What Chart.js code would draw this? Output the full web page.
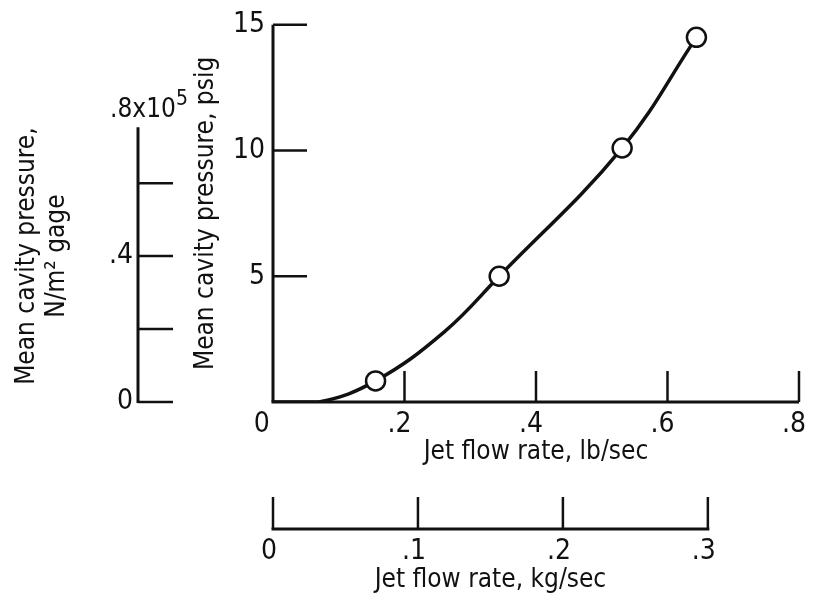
<!DOCTYPE html>
<html>
<head>
<meta charset="utf-8">
<title>Mean cavity pressure vs jet flow rate</title>
<script src="https://cdn.jsdelivr.net/npm/chart.js@4.4.0/dist/chart.umd.min.js"></script>
<style>
  html, body { margin: 0; padding: 0; background: #fff; }
  #wrap { width: 817px; height: 602px; }
</style>
</head>
<body>
<div id="wrap"><canvas id="cavityChart" width="817" height="602"></canvas></div>
<script>
// measured points: jet flow (lb/sec) and mean cavity pressure (psig)
const flowLb = [0.156, 0.344, 0.531, 0.644];
const pressurePsig = [0.84, 5.0, 10.1, 14.5];

// faired curve through the measurements
const curveFlowLb = [0, 0.07, 0.156, 0.261, 0.344, 0.531, 0.644];
const curvePsig = [0, 0, 0.84, 2.8, 5.0, 10.1, 14.5];

const lbTicks = [0, 0.2, 0.4, 0.6, 0.8];
const lbTickLabels = ['0\u2002', '.2', '.4', '.6', '.8'];
const psigTicks = [0, 5, 10, 15];
const psigTickLabels = ['', '5', '10', '15'];
const kgTicks = [0, 0.1, 0.2, 0.3];
const kgTickLabels = ['0', '.1', '.2', '.3'];
const paTicks = [0, 0.2e5, 0.4e5, 0.6e5, 0.8e5];
const paTickLabels = ['0', '', '.4', '', ''];

const PSI_TO_PA = 6894.76;
const LB_TO_KG = 0.45359237;
const LB_MAX = 0.8;
const PSIG_MAX = 15;

const INK = '#111';
const FAMILY = "'Liberation Sans Narrow', 'DejaVu Sans Condensed', 'Liberation Sans', sans-serif";
const tickFont = { family: FAMILY, size: 28 };
const titleFont = { family: FAMILY, size: 26 };

function seg(ctx, x1, y1, x2, y2) {
  ctx.beginPath();
  ctx.moveTo(x1, y1);
  ctx.lineTo(x2, y2);
  ctx.stroke();
}

function labelFor(values, labels) {
  return v => {
    const i = values.findIndex(t => Math.abs(t - v) < 1e-9);
    return i < 0 ? '' : labels[i];
  };
}

// axis lines with inward ticks, plus the SI scales' extra text
const axisFurniture = {
  id: 'axisFurniture',
  beforeDatasetsDraw(chart) {
    const { ctx, scales: { x, y, kg, pa } } = chart;
    const x0 = x.getPixelForValue(0);
    const y0 = y.getPixelForValue(0);
    ctx.save();
    ctx.strokeStyle = INK;
    ctx.fillStyle = INK;

    // psig / lb-per-sec frame
    ctx.lineWidth = 3;
    seg(ctx, x0, y.getPixelForValue(PSIG_MAX), x0, y0);
    seg(ctx, x0 - 1.5, y0, x.getPixelForValue(LB_MAX), y0);
    ctx.lineWidth = 2.5;
    psigTicks.slice(1).forEach(v => {
      const p = y.getPixelForValue(v);
      seg(ctx, x0, p, x0 + 34, p);
    });
    lbTicks.slice(1).forEach(v => {
      const p = x.getPixelForValue(v);
      seg(ctx, p, y0, p, y0 - 31);
    });

    // N/m^2 scale
    const ax = pa.right;
    const paTop = pa.getPixelForValue(0.8e5);
    ctx.lineWidth = 3;
    seg(ctx, ax, pa.getPixelForValue(0) + 1, ax, paTop + 17);
    ctx.lineWidth = 2.5;
    paTicks.slice(0, -1).forEach(v => {
      const p = pa.getPixelForValue(v);
      seg(ctx, ax, p, ax + 35, p);
    });
    ctx.textBaseline = 'middle';
    ctx.textAlign = 'left';
    ctx.font = `26px ${FAMILY}`;
    ctx.fillText('.8x10', ax - 28, paTop);
    const w = ctx.measureText('.8x10').width;
    ctx.font = `21px ${FAMILY}`;
    ctx.fillText('5', ax - 28 + w, paTop - 11);

    // kg/sec scale
    const ky = kg.top;
    ctx.lineWidth = 3;
    seg(ctx, kg.getPixelForValue(0) - 1.5, ky, kg.getPixelForValue(0.3) + 1.5, ky);
    ctx.lineWidth = 2.5;
    kgTicks.forEach(v => {
      const p = kg.getPixelForValue(v);
      seg(ctx, p, ky, p, ky - 32);
    });

    // titles of the two SI scales
    ctx.font = `${titleFont.size}px ${FAMILY}`;
    ctx.textAlign = 'center';
    ctx.fillText('Jet flow rate, kg/sec',
      (kg.getPixelForValue(0) + kg.getPixelForValue(0.3)) / 2, ky + 51);
    const midY = (pa.getPixelForValue(0) + paTop) / 2;
    ctx.translate(0, midY);
    ctx.rotate(-Math.PI / 2);
    ctx.fillText('Mean cavity pressure,', 0, 27);
    ctx.fillText('N/m\u00b2 gage', 0, 57);
    ctx.restore();
  }
};

const ctx = document.getElementById('cavityChart').getContext('2d');
new Chart(ctx, {
  type: 'scatter',
  data: {
    datasets: [
      {
        label: 'Measured',
        data: flowLb.map((v, i) => ({ x: v, y: pressurePsig[i] })),
        showLine: false,
        pointRadius: 9.5,
        pointHoverRadius: 9.5,
        pointBackgroundColor: '#fff',
        pointBorderColor: INK,
        pointBorderWidth: 2.5
      },
      {
        label: 'Faired curve',
        data: curveFlowLb.map((v, i) => ({ x: v, y: curvePsig[i] })),
        showLine: true,
        borderColor: INK,
        borderWidth: 3.5,
        pointRadius: 0,
        tension: 0.4
      }
    ]
  },
  options: {
    responsive: false,
    animation: false,
    events: [],
    layout: { padding: { left: 106, right: 11, top: 19, bottom: 0 } },
    plugins: { legend: { display: false }, tooltip: { enabled: false } },
    scales: {
      x: {
        type: 'linear',
        position: 'bottom',
        min: 0,
        max: LB_MAX,
        afterBuildTicks: s => { s.ticks = lbTicks.map(v => ({ value: v })); },
        afterFit: s => { s.height = 127; },
        grid: { display: false, drawTicks: false },
        border: { display: false },
        ticks: { padding: 6, labelOffset: -5, color: INK, font: tickFont,
                 maxRotation: 0, autoSkip: false, callback: labelFor(lbTicks, lbTickLabels) },
        title: { display: true, text: 'Jet flow rate, lb/sec', color: INK, font: titleFont,
                 padding: { top: 0, bottom: 61 } }
      },
      kg: {
        type: 'linear',
        position: 'bottom',
        weight: 1,
        min: 0,
        max: LB_MAX * LB_TO_KG,
        afterBuildTicks: s => { s.ticks = kgTicks.map(v => ({ value: v })); },
        afterFit: s => { s.height = 73; },
        grid: { display: false, drawTicks: false },
        border: { display: false },
        ticks: { padding: 6, labelOffset: -4, color: INK, font: tickFont,
                 maxRotation: 0, autoSkip: false, callback: labelFor(kgTicks, kgTickLabels) }
      },
      y: {
        type: 'linear',
        position: 'left',
        min: 0,
        max: PSIG_MAX,
        afterBuildTicks: s => { s.ticks = psigTicks.map(v => ({ value: v })); },
        afterFit: s => { s.width = 135; },
        grid: { display: false, drawTicks: false },
        border: { display: false },
        ticks: { padding: 8, color: INK, font: tickFont, autoSkip: false,
                 callback: labelFor(psigTicks, psigTickLabels) },
        title: { display: true, text: 'Mean cavity pressure, psig', color: INK, font: titleFont,
                 padding: { top: 53, bottom: 20 } }
      },
      pa: {
        type: 'linear',
        position: 'left',
        weight: 1,
        min: 0,
        max: PSIG_MAX * PSI_TO_PA,
        afterBuildTicks: s => { s.ticks = paTicks.map(v => ({ value: v })); },
        afterFit: s => { s.width = 32; },
        grid: { display: false, drawTicks: false },
        border: { display: false },
        ticks: { padding: 5, color: INK, font: tickFont, autoSkip: false,
                 callback: labelFor(paTicks, paTickLabels) }
      }
    }
  },
  plugins: [axisFurniture]
});
</script>
</body>
</html>
